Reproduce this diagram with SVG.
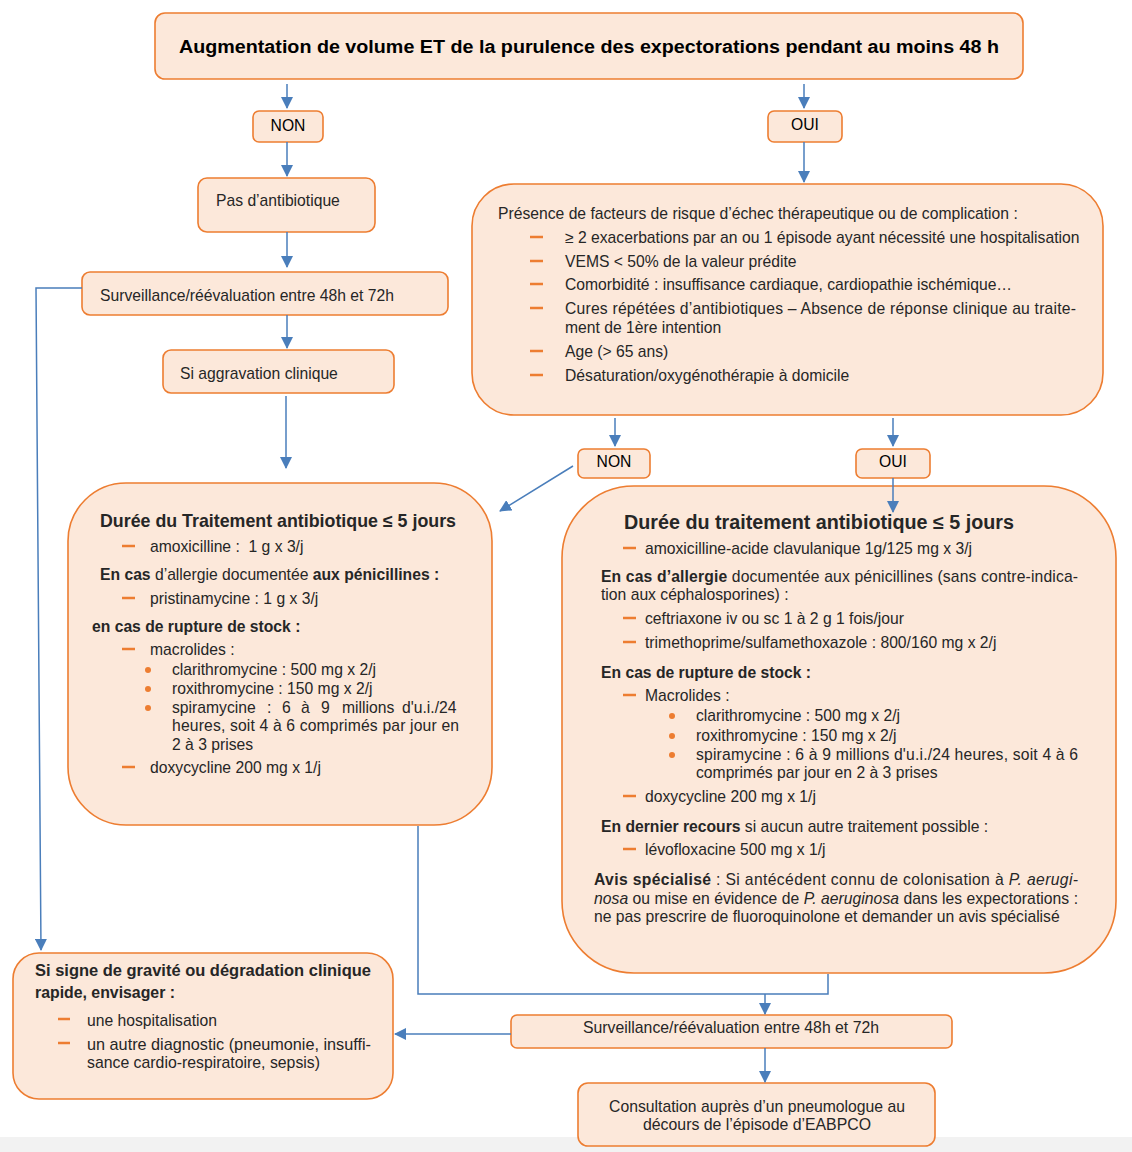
<svg xmlns="http://www.w3.org/2000/svg" width="1132" height="1152" viewBox="0 0 1132 1152">
<defs>
<marker id="ah" markerUnits="userSpaceOnUse" markerWidth="12" markerHeight="12" viewBox="0 0 12 12" refX="11" refY="6" orient="auto">
<path d="M0,0 L12,6 L0,12 z" fill="#4a7ebb"/>
</marker>
</defs>
<style>
.box{fill:#fce8da;stroke:#ed7d31;stroke-width:1.6}
.t{font-family:"Liberation Sans",Arial,sans-serif;font-size:15.7px;fill:#262626}
.b{font-weight:bold}
.c{stroke:#4a7ebb;stroke-width:1.5;fill:none}
.a{marker-end:url(#ah)}
.d{stroke:#ed7d31;stroke-width:2.5}
.dot{fill:#ed7d31}
</style>
<rect x="0" y="0" width="1132" height="1152" fill="#ffffff"/>
<rect x="0" y="1137" width="1132" height="15" fill="#f2f2f2"/>

<g id="n-top">
<rect class="box" x="155" y="13" width="868" height="66" rx="10"/>
<text class="t b" x="589" y="53" text-anchor="middle" style="font-size:18px;fill:#000" textLength="820" lengthAdjust="spacingAndGlyphs">Augmentation de volume ET de la purulence des expectorations pendant au moins 48 h</text>
</g>

<g id="n-non1">
<rect class="box" x="253" y="111" width="70" height="31" rx="6"/>
<text class="t" x="288" y="131" text-anchor="middle" style="fill:#000">NON</text>
</g>
<g id="n-oui1">
<rect class="box" x="768" y="111" width="74" height="31" rx="6"/>
<text class="t" x="805" y="130" text-anchor="middle" style="fill:#000">OUI</text>
</g>

<g id="n-pasatb">
<rect class="box" x="198" y="178" width="177" height="54" rx="9"/>
<text class="t" x="216" y="206">Pas d’antibiotique</text>
</g>

<g id="n-surv1">
<rect class="box" x="82" y="272" width="366" height="43" rx="8"/>
<text class="t" x="100" y="301">Surveillance/réévaluation entre 48h et 72h</text>
</g>

<g id="n-aggrav">
<rect class="box" x="163" y="350" width="231" height="43" rx="8"/>
<text class="t" x="180" y="379">Si aggravation clinique</text>
</g>

<g id="n-risk">
<rect class="box" x="472" y="184" width="631" height="231" rx="42"/>
<text class="t" x="498" y="219">Présence de facteurs de risque d’échec thérapeutique ou de complication :</text>
<line class="d" x1="530" y1="237" x2="543" y2="237"/>
<text class="t" x="565" y="243">≥ 2 exacerbations par an ou 1 épisode ayant nécessité une hospitalisation</text>
<line class="d" x1="530" y1="261" x2="543" y2="261"/>
<text class="t" x="565" y="267">VEMS &lt; 50% de la valeur prédite</text>
<line class="d" x1="530" y1="284" x2="543" y2="284"/>
<text class="t" x="565" y="290">Comorbidité : insuffisance cardiaque, cardiopathie ischémique…</text>
<line class="d" x1="530" y1="308" x2="543" y2="308"/>
<text class="t" x="565" y="314" textLength="511" lengthAdjust="spacing">Cures répétées d’antibiotiques – Absence de réponse clinique au traite-</text>
<text class="t" x="565" y="333">ment de 1ère intention</text>
<line class="d" x1="530" y1="351" x2="543" y2="351"/>
<text class="t" x="565" y="357">Age (&gt; 65 ans)</text>
<line class="d" x1="530" y1="375" x2="543" y2="375"/>
<text class="t" x="565" y="381">Désaturation/oxygénothérapie à domicile</text>
</g>

<g id="n-non2">
<rect class="box" x="578" y="449" width="72" height="29" rx="6"/>
<text class="t" x="614" y="467" text-anchor="middle" style="fill:#000">NON</text>
</g>
<g id="n-oui2">
<rect class="box" x="856" y="449" width="74" height="29" rx="6"/>
<text class="t" x="893" y="467" text-anchor="middle" style="fill:#000">OUI</text>
</g>

<g id="n-trt-left">
<rect class="box" x="68" y="483" width="424" height="342" rx="58"/>
<text class="t b" x="100" y="527" style="font-size:17.8px" textLength="356" lengthAdjust="spacingAndGlyphs">Durée du Traitement antibiotique ≤ 5 jours</text>
<line class="d" x1="122" y1="546" x2="135" y2="546"/>
<text class="t" x="150" y="552" xml:space="preserve">amoxicilline :  1 g x 3/j</text>
<text class="t" x="100" y="580"><tspan class="b">En cas </tspan>d’allergie documentée <tspan class="b">aux pénicillines :</tspan></text>
<line class="d" x1="122" y1="598" x2="135" y2="598"/>
<text class="t" x="150" y="604">pristinamycine : 1 g x 3/j</text>
<text class="t b" x="92" y="632">en cas de rupture de stock :</text>
<line class="d" x1="122" y1="649" x2="135" y2="649"/>
<text class="t" x="150" y="655">macrolides :</text>
<circle class="dot" cx="148" cy="670" r="3"/>
<text class="t" x="172" y="675">clarithromycine : 500 mg x 2/j</text>
<circle class="dot" cx="148" cy="689" r="3"/>
<text class="t" x="172" y="694">roxithromycine : 150 mg x 2/j</text>
<circle class="dot" cx="148" cy="708" r="3"/>
<text class="t" y="713"><tspan x="172">spiramycine</tspan><tspan x="267">:</tspan><tspan x="282">6</tspan><tspan x="301">à</tspan><tspan x="321">9</tspan><tspan x="342">millions</tspan><tspan x="402">d'u.i./24</tspan></text>
<text class="t" x="172" y="731" textLength="287" lengthAdjust="spacing">heures, soit 4 à 6 comprimés par jour en</text>
<text class="t" x="172" y="750">2 à 3 prises</text>
<line class="d" x1="122" y1="767" x2="135" y2="767"/>
<text class="t" x="150" y="773">doxycycline 200 mg x 1/j</text>
</g>

<g id="n-trt-right">
<rect class="box" x="562" y="486" width="554" height="487" rx="72"/>
<text class="t b" x="624" y="529" style="font-size:19.5px" textLength="390" lengthAdjust="spacingAndGlyphs">Durée du traitement antibiotique ≤ 5 jours</text>
<line class="d" x1="623" y1="548" x2="636" y2="548"/>
<text class="t" x="645" y="554">amoxicilline-acide clavulanique 1g/125 mg x 3/j</text>
<text class="t" x="601" y="582" textLength="477" lengthAdjust="spacing"><tspan class="b">En cas d’allergie</tspan> documentée aux pénicillines (sans contre-indica-</text>
<text class="t" x="601" y="600">tion aux céphalosporines) :</text>
<line class="d" x1="623" y1="618" x2="636" y2="618"/>
<text class="t" x="645" y="624">ceftriaxone iv ou sc 1 à 2 g 1 fois/jour</text>
<line class="d" x1="623" y1="642" x2="636" y2="642"/>
<text class="t" x="645" y="648">trimethoprime/sulfamethoxazole : 800/160 mg x 2/j</text>
<text class="t b" x="601" y="678">En cas de rupture de stock :</text>
<line class="d" x1="623" y1="695" x2="636" y2="695"/>
<text class="t" x="645" y="701">Macrolides :</text>
<circle class="dot" cx="672" cy="716" r="3"/>
<text class="t" x="696" y="721">clarithromycine : 500 mg x 2/j</text>
<circle class="dot" cx="672" cy="736" r="3"/>
<text class="t" x="696" y="741">roxithromycine : 150 mg x 2/j</text>
<circle class="dot" cx="672" cy="755" r="3"/>
<text class="t" x="696" y="760" textLength="382" lengthAdjust="spacing">spiramycine : 6 à 9 millions d'u.i./24 heures, soit 4 à 6</text>
<text class="t" x="696" y="778">comprimés par jour en 2 à 3 prises</text>
<line class="d" x1="623" y1="796" x2="636" y2="796"/>
<text class="t" x="645" y="802">doxycycline 200 mg x 1/j</text>
<text class="t" x="601" y="832"><tspan class="b">En dernier recours</tspan> si aucun autre traitement possible :</text>
<line class="d" x1="623" y1="849" x2="636" y2="849"/>
<text class="t" x="645" y="855">lévofloxacine 500 mg x 1/j</text>
<text class="t" x="594" y="885" textLength="484" lengthAdjust="spacing"><tspan class="b">Avis spécialisé</tspan> : Si antécédent connu de colonisation à <tspan font-style="italic">P. aerugi-</tspan></text>
<text class="t" x="594" y="904" textLength="484" lengthAdjust="spacing"><tspan font-style="italic">nosa</tspan> ou mise en évidence de <tspan font-style="italic">P. aeruginosa</tspan> dans les expectorations :</text>
<text class="t" x="594" y="922">ne pas prescrire de fluoroquinolone et demander un avis spécialisé</text>
</g>

<g id="n-gravite">
<rect class="box" x="13" y="953" width="380" height="146" rx="26"/>
<text class="t b" x="35" y="976" textLength="336" lengthAdjust="spacingAndGlyphs">Si signe de gravité ou dégradation clinique</text>
<text class="t b" x="35" y="998" textLength="140" lengthAdjust="spacingAndGlyphs">rapide, envisager :</text>
<line class="d" x1="58" y1="1019" x2="70" y2="1019"/>
<text class="t" x="87" y="1026" textLength="130" lengthAdjust="spacingAndGlyphs">une hospitalisation</text>
<line class="d" x1="58" y1="1043" x2="70" y2="1043"/>
<text class="t" x="87" y="1050" textLength="284" lengthAdjust="spacingAndGlyphs">un autre diagnostic (pneumonie, insuffi-</text>
<text class="t" x="87" y="1068" textLength="233" lengthAdjust="spacingAndGlyphs">sance cardio-respiratoire, sepsis)</text>
</g>

<g id="n-surv2">
<rect class="box" x="511" y="1015" width="441" height="33" rx="6"/>
<text class="t" x="731" y="1033" text-anchor="middle" textLength="296" lengthAdjust="spacingAndGlyphs">Surveillance/réévaluation entre 48h et 72h</text>
</g>

<g id="n-consult">
<rect class="box" x="578" y="1083" width="357" height="63" rx="10"/>
<text class="t" x="757" y="1112" text-anchor="middle" textLength="296" lengthAdjust="spacingAndGlyphs">Consultation auprès d’un pneumologue au</text>
<text class="t" x="757" y="1130" text-anchor="middle" textLength="228" lengthAdjust="spacingAndGlyphs">décours de l’épisode d’EABPCO</text>
</g>

<g id="connectors">
<path class="c a" d="M287,84 V108"/>
<path class="c a" d="M804,84 V108"/>
<path class="c a" d="M287,142 V176"/>
<path class="c a" d="M287,232 V267"/>
<path class="c a" d="M82,288 H36 L41,950"/>
<path class="c a" d="M287,315 V348"/>
<path class="c a" d="M286,396 V468"/>
<path class="c a" d="M804,142 V182"/>
<path class="c a" d="M615,418 V446"/>
<path class="c a" d="M893,418 V446"/>
<path class="c a" d="M573,466 L500,511"/>
<path class="c a" d="M893,478 V512"/>
<path class="c" d="M418,826 V994 H828 V974"/>
<path class="c a" d="M765,994 V1014"/>
<path class="c a" d="M511,1034 H395"/>
<path class="c a" d="M765,1048 V1082"/>
</g>
</svg>
